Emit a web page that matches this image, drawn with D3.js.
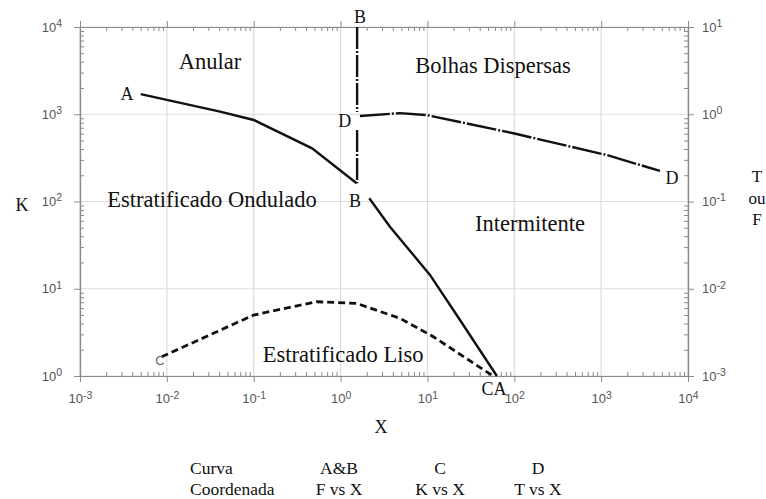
<!DOCTYPE html>
<html>
<head>
<meta charset="utf-8">
<script src="https://cdn.jsdelivr.net/npm/d3@7"></script>
<style>
    body { margin: 0; background: #fff; }
    .tick-label { font-family: "Liberation Sans", Arial, sans-serif; font-size: 13px; fill: #555; }
    .serif { font-family: "Liberation Serif", "Times New Roman", serif; fill: #111; }
</style>
</head>
<body>
<div id="flowMap"></div>
<script>

// Axis decades (exponents)
var xExponents = [-3, -2, -1, 0, 1, 2, 3, 4];
var kExponents = [0, 1, 2, 3, 4];
var tfExponents = [-3, -2, -1, 0, 1];

// Curve A & B (F vs X), null = break in the line
var curveA = [[0.005, 1.7], [0.041, 1.07], [0.1, 0.86], [0.47, 0.407], [1.53, 0.162], null,
              [2.14, 0.109], [3.7, 0.0514], [10.7, 0.0144], [23.7, 0.00438], [63, 0.001]];
var curveB = [[1.55, 10], [1.55, 1.06], null, [1.55, 0.66], [1.55, 0.162]];

// Curve C (K vs X)
var curveC = [[0.0087, 1.66], [0.1, 5.0], [0.53, 7.1], [1.53, 6.8], [4.83, 4.58], [11.7, 2.82], [57, 1.0]];

// Curve D (T vs X)
var curveD = [[1.67, 0.955], [4.83, 1.03], [9.8, 0.98], [97.5, 0.605], [1160, 0.341], [4750, 0.224]];

// Region names and curve letters, placed in (X, K) coordinates
var regionLabels = [
    { text: "Anular", x: 0.0314, k: 3300 },
    { text: "Bolhas Dispersas", x: 56.9, k: 2970 },
    { text: "Estratificado Ondulado", x: 0.0331, k: 86.5 },
    { text: "Intermitente", x: 152, k: 45.9 },
    { text: "Estratificado Liso", x: 1.07, k: 1.45 }
];
var curveLabels = [
    { text: "A", x: 0.00348, k: 1455 },
    { text: "B", x: 1.67, k: 11100 },
    { text: "D", x: 1.12, k: 714 },
    { text: "B", x: 1.47, k: 86.5 },
    { text: "CA", x: 58.3, k: 0.605 },
    { text: "D", x: 6550, k: 159 }
];
var curveCLabel = { text: "C", x: 0.00834, k: 1.34 };

// Legend table under the chart
var tableHeader = ["Curva", "A&B", "C", "D"];
var tableCoords = ["Coordenada", "F vs X", "K vs X", "T vs X"];

var properties = {
    width: 766,
    height: 499,
    margin: { top: 27, right: 78, bottom: 123, left: 80 }
};

var chartDimensions = {
    width: properties.width - properties.margin.left - properties.margin.right,
    height: properties.height - properties.margin.top - properties.margin.bottom
};

var svg = d3.select("#flowMap")
    .append("svg")
    .attr("width", properties.width)
    .attr("height", properties.height);

var chartContent = svg.append("g")
    .attr("transform", "translate(" + properties.margin.left + "," + properties.margin.top + ")");

// Scales
var xScale = d3.scaleLog().domain([1e-3, 1e4]).range([0, chartDimensions.width]);
var kScale = d3.scaleLog().domain([1, 1e4]).range([chartDimensions.height, 0]);
var tfScale = d3.scaleLog().domain([1e-3, 1e1]).range([chartDimensions.height, 0]);

function minorTicks(exps) {
    var out = [];
    for (var i = 0; i < exps.length - 1; i++) {
        for (var m = 2; m <= 9; m++) out.push(m * Math.pow(10, exps[i]));
    }
    return out;
}
function majorTicks(exps) {
    return exps.map(function (e) { return Math.pow(10, e); });
}

// Grid lines
var grid = chartContent.append("g").attr("class", "grid");
grid.selectAll(".vgrid")
    .data(majorTicks(xExponents))
    .enter().append("line")
    .attr("x1", function (d) { return xScale(d); })
    .attr("x2", function (d) { return xScale(d); })
    .attr("y1", 0).attr("y2", chartDimensions.height)
    .attr("stroke", "#dcdcdc").attr("stroke-width", 1.2);
grid.selectAll(".hgrid")
    .data(majorTicks(kExponents))
    .enter().append("line")
    .attr("y1", function (d) { return kScale(d); })
    .attr("y2", function (d) { return kScale(d); })
    .attr("x1", 0).attr("x2", chartDimensions.width)
    .attr("stroke", "#dcdcdc").attr("stroke-width", 1.2);

// Axes: minor ticks point inward, major ticks point outward
function styleAxis(g) {
    g.select(".domain").attr("stroke", "#8a8a8a").attr("stroke-width", 1.2);
    g.selectAll(".tick line").attr("stroke", "#8a8a8a");
    g.selectAll("text").remove();
}

var axes = [
    { gen: d3.axisBottom, scale: xScale, exps: xExponents, t: "translate(0," + chartDimensions.height + ")", labels: true, pad: 12 },
    { gen: d3.axisTop, scale: xScale, exps: xExponents, t: "translate(0,0)", labels: false, pad: 4 },
    { gen: d3.axisLeft, scale: kScale, exps: kExponents, t: "translate(0,0)", labels: true, pad: 12 },
    { gen: d3.axisRight, scale: tfScale, exps: tfExponents, t: "translate(" + chartDimensions.width + ",0)", labels: true, pad: 8 }
];

axes.forEach(function (a) {
    chartContent.append("g")
        .attr("transform", a.t)
        .call(a.gen(a.scale).tickValues(minorTicks(a.exps)).tickSize(-4).tickSizeOuter(0))
        .call(styleAxis);
    var major = chartContent.append("g")
        .attr("transform", a.t)
        .call(a.gen(a.scale).tickValues(majorTicks(a.exps)).tickSize(6).tickSizeOuter(0).tickPadding(a.pad)
            .tickFormat(function (d) { return "10"; }));
    major.select(".domain").attr("stroke", "#8a8a8a").attr("stroke-width", 1.2);
    major.selectAll(".tick line").attr("stroke", "#8a8a8a");
    if (!a.labels) {
        major.selectAll("text").remove();
        return;
    }
    major.selectAll("text")
        .attr("class", "tick-label")
        .attr("font-size", null)
        .attr("font-family", null)
        .attr("fill", null)
        .each(function (d) {
            var exp = Math.round(Math.log10(d));
            d3.select(this).append("tspan")
                .attr("dy", "-0.45em")
                .attr("font-size", "10.5px")
                .text(exp);
        });
});

// Line generators
var lineF = d3.line()
    .defined(function (d) { return d !== null; })
    .x(function (d) { return xScale(d[0]); })
    .y(function (d) { return tfScale(d[1]); });
var lineK = d3.line()
    .defined(function (d) { return d !== null; })
    .x(function (d) { return xScale(d[0]); })
    .y(function (d) { return kScale(d[1]); });

var curves = chartContent.append("g").attr("class", "curves").attr("fill", "none").attr("stroke", "#111");

curves.append("path").datum(curveA)
    .attr("d", lineF).attr("stroke-width", 2.4);

curves.append("path").datum(curveB)
    .attr("d", lineF).attr("stroke-width", 2.4)
    .attr("stroke-dasharray", "22,2,2,2");

curves.append("path").datum(curveC)
    .attr("d", lineK).attr("stroke-width", 2.8)
    .attr("stroke-dasharray", "7,4");

curves.append("path").datum(curveD)
    .attr("d", lineF).attr("stroke-width", 2.4)
    .attr("stroke-dasharray", "30,2,2,2");

// Region names
chartContent.append("g")
    .selectAll("text")
    .data(regionLabels)
    .enter().append("text")
    .attr("class", "serif")
    .attr("font-size", 22.5)
    .attr("text-anchor", "middle")
    .attr("x", function (d) { return xScale(d.x); })
    .attr("y", function (d) { return kScale(d.k); })
    .text(function (d) { return d.text; });

// Curve letters
chartContent.append("g")
    .selectAll("text")
    .data(curveLabels)
    .enter().append("text")
    .attr("class", "serif")
    .attr("font-size", 18)
    .attr("text-anchor", "middle")
    .attr("x", function (d) { return xScale(d.x); })
    .attr("y", function (d) { return kScale(d.k); })
    .text(function (d) { return d.text; });

chartContent.append("text")
    .attr("font-family", "Liberation Sans, Arial, sans-serif")
    .attr("font-size", 13)
    .attr("fill", "#666")
    .attr("text-anchor", "middle")
    .attr("x", xScale(curveCLabel.x))
    .attr("y", kScale(curveCLabel.k))
    .text(curveCLabel.text);

// Axis titles
svg.append("text").attr("class", "serif").attr("font-size", 18)
    .attr("text-anchor", "middle").attr("x", 22).attr("y", 211).text("K");
svg.append("text").attr("class", "serif").attr("font-size", 18)
    .attr("text-anchor", "middle").attr("x", 381).attr("y", 433).text("X");
svg.append("g").attr("class", "serif").attr("font-size", 17)
    .attr("text-anchor", "middle")
    .selectAll("text")
    .data(["T", "ou", "F"])
    .enter().append("text")
    .attr("x", 757)
    .attr("y", function (d, i) { return 182 + i * 21.5; })
    .text(function (d) { return d; });

// Table under the chart
var tableX = [190, 339, 440, 538];
[tableHeader, tableCoords].forEach(function (row, r) {
    svg.append("g")
        .attr("class", "serif")
        .attr("font-size", 17.5)
        .selectAll("text")
        .data(row)
        .enter().append("text")
        .attr("text-anchor", function (d, i) { return i === 0 ? "start" : "middle"; })
        .attr("x", function (d, i) { return tableX[i]; })
        .attr("y", 474 + r * 20.5)
        .text(function (d) { return d; });
});

</script>
</body>
</html>
